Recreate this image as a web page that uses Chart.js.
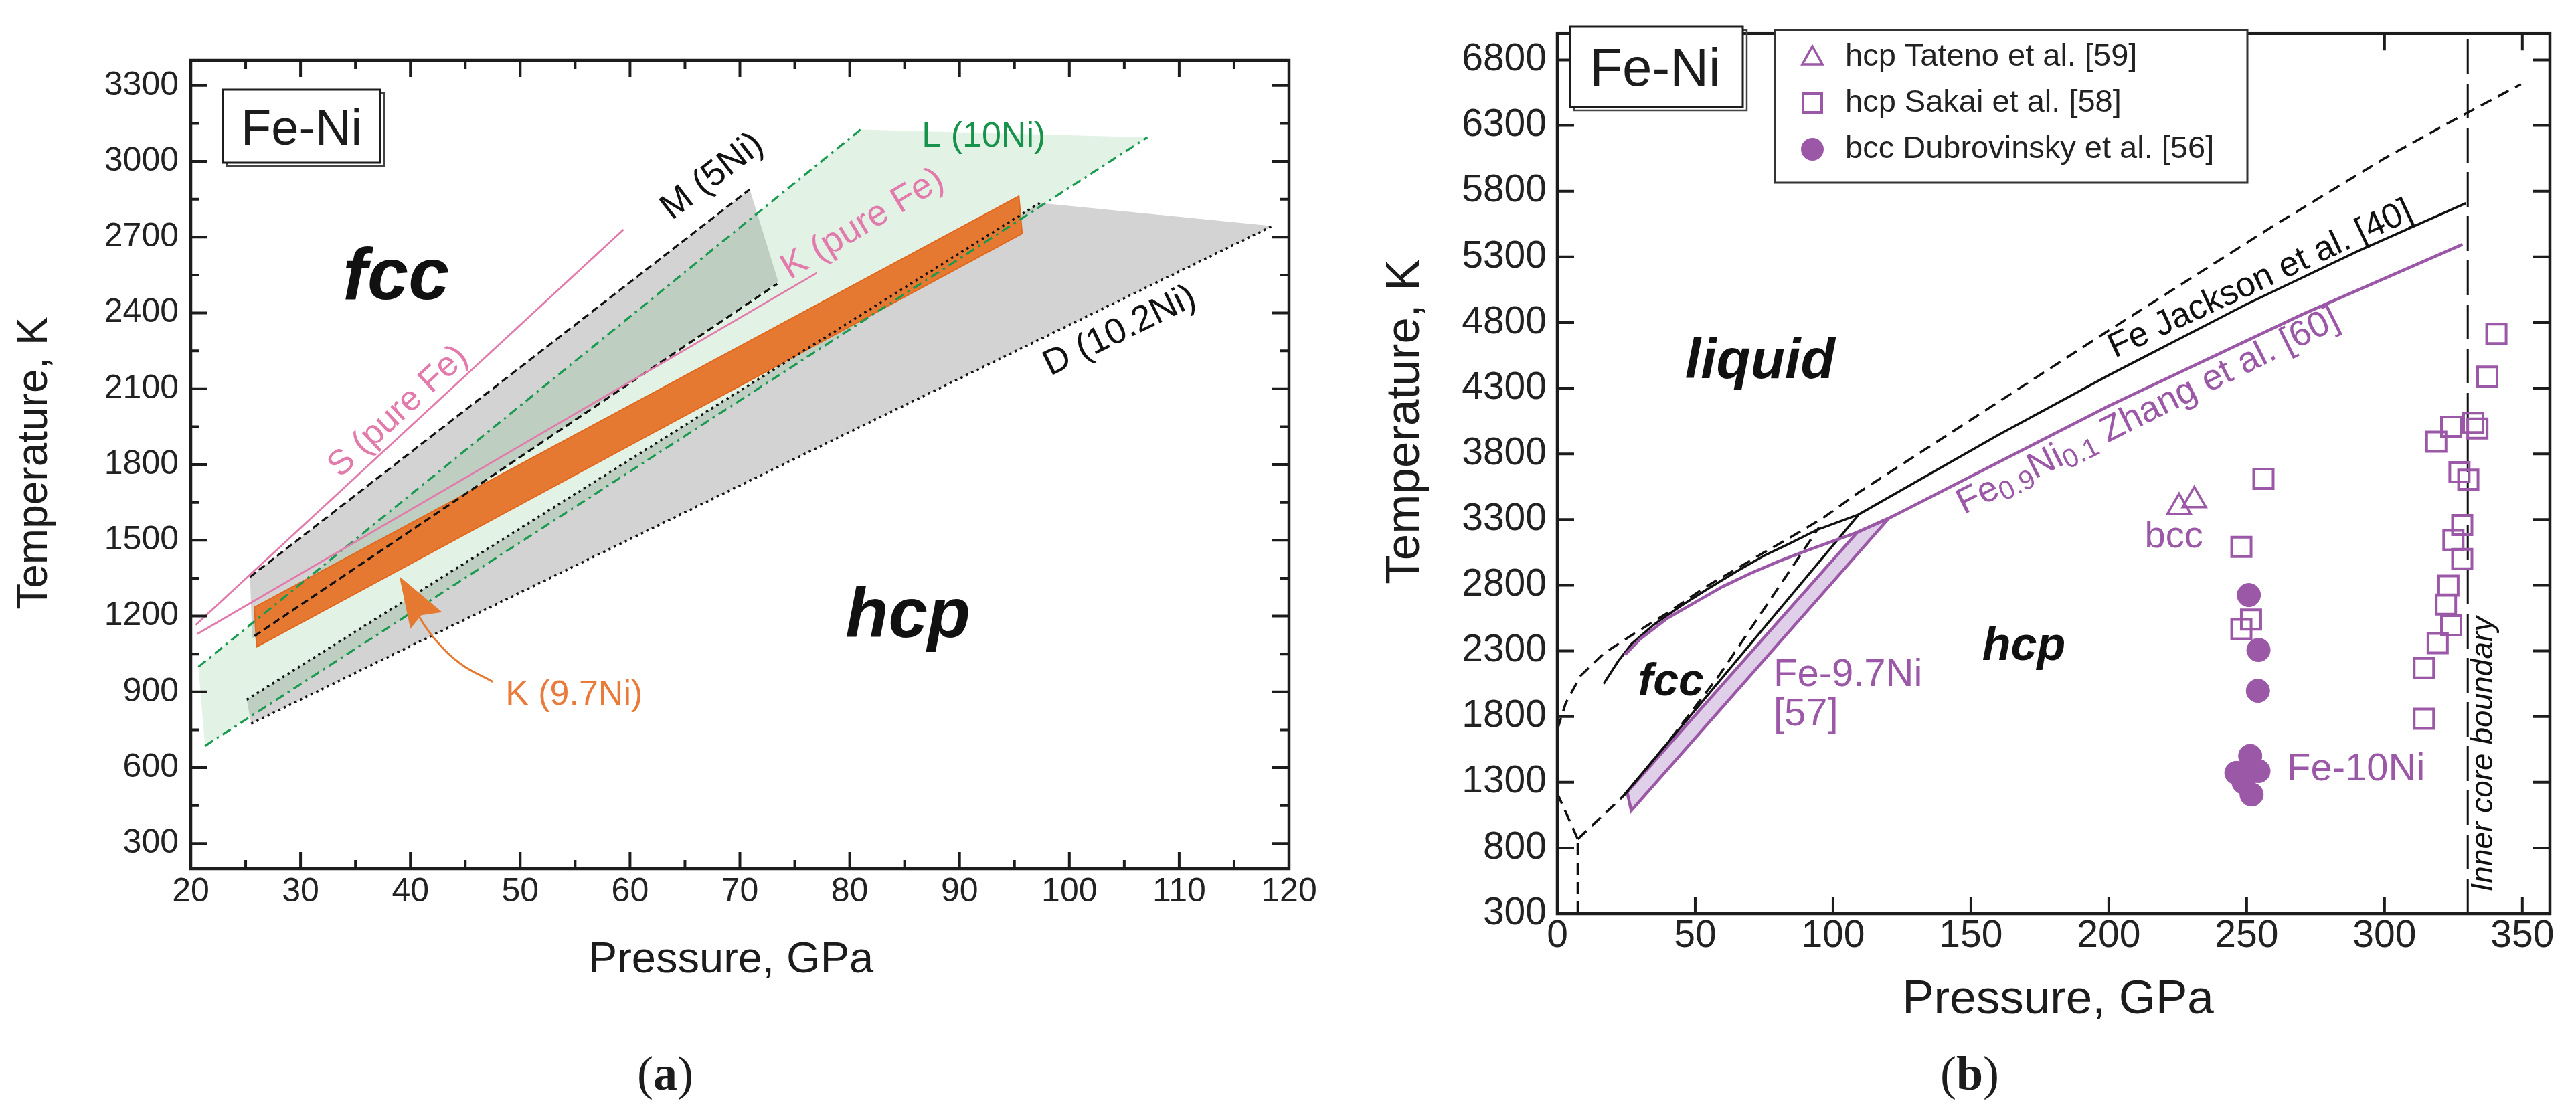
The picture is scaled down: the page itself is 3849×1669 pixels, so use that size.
<!DOCTYPE html>
<html><head><meta charset="utf-8">
<script src="https://cdn.jsdelivr.net/npm/chart.js@4.4.1/dist/chart.umd.min.js"></script>
<style>
html,body{margin:0;padding:0;background:#fff;width:3849px;height:1669px;overflow:hidden;}
canvas{position:absolute;top:0;}
#cA{left:0px;width:1996px;height:1669px;}
#cB{left:1925px;width:1924px;height:1669px;}
</style></head><body>
<canvas id="cA" width="1996" height="1669"></canvas>
<canvas id="cB" width="1924" height="1669"></canvas>
<script>
// ================= DATA : panel (a) =================
const aXTicks = [20,30,40,50,60,70,80,90,100,110,120];
const aXMinor = [25,35,45,55,65,75,85,95,105,115];
const aYTicks = [300,600,900,1200,1500,1800,2100,2400,2700,3000,3300];
const aYMinor = [450,750,1050,1350,1650,1950,2250,2550,2850,3150];
// regions (pressure GPa, temperature K)
const aRegionD = [[25.1,869],[97.3,2835],[118.5,2744],[25.5,774]];
const aRegionM = [[25.4,1355],[70.9,2889],[73.5,2523],[25.6,1110]];
const aRegionL = [[20.7,999],[81.0,3126],[107.1,3095],[21.3,686]];
const aBandK97 = [[25.8,1235],[95.4,2862],[95.7,2714],[26.0,1078]];
// boundary lines
const aLineMUpper = [[25.4,1355],[70.9,2889]];
const aLineMLower = [[25.8,1121],[73.4,2515]];
const aLineDUpper = [[25.1,869],[97.3,2835]];
const aLineDLower = [[25.5,774],[118.5,2744]];
const aLineLUpper = [[20.7,999],[81.0,3126]];
const aLineLLower = [[21.3,686],[107.1,3095]];
const aLineSFe = [[20.45,1165],[59.4,2730]];
const aLineKFe = [[20.6,1129],[77.0,2558]];
const aArrowK = [[47.5,940],[44.6,1010],[42.4,1100],[40.9,1190],[40.2,1262]];
const aArrowHead = [[39.0,1357],[40.0,1150],[41.0,1203],[42.9,1215]];

// ================= DATA : panel (b) =================
const bXTicks = [0,50,100,150,200,250,300,350];
const bYTicks = [300,800,1300,1800,2300,2800,3300,3800,4300,4800,5300,5800,6300,6800];
const bBand97 = [[25.3,1225],[108.8,3203],[120.3,3311],[26.8,1084]];
const bMeltDashed = [[0,1700],[3,1900],[8.4,2110],[16.8,2280],[27,2420],[40,2590],[54,2790],[65,2925],[75,3050],[85,3170],[96.2,3310],[109.2,3505],[200,4740],[260,5540],[300,6050],[325,6340],[349.5,6615]];
const bMeltFe = [[16.8,2050],[22,2220],[27,2355],[35,2500],[45,2645],[54,2765],[65,2905],[75,3025],[85,3125],[94,3220],[109.2,3338],[160,3945],[200,4399],[250,4940],[290,5340],[329.5,5709]];
const bMeltFeNi = [[24.5,2270],[30,2390],[40,2550],[50,2670],[60,2790],[70,2890],[80,2980],[90,3060],[108.8,3203],[120.8,3315],[200,4165],[270,4860],[328.3,5395]];
const bFccHcpFe = [[24.2,1203],[109.2,3335]];
const bFccHcpDashed = [[7.4,867],[24.2,1200],[40,1600],[58.9,2120],[94.9,3240]];
const bAlphaEps = [[7.4,300],[7.4,867]];
const bAlphaGamma = [[7.4,867],[0.3,1200]];
const bInnerCore = [[330.2,300],[330.2,7000]];
const bTateno = [[225.5,3395],[231,3446]];
const bSakai = [[340.6,4714],[337.3,4388],[324.2,4007],[318.8,3892],[332.2,4036],[333.7,3993],[327.2,3661],[330.4,3604],[328.2,3258],[325.0,3143],[328.2,2999],[323.2,2797],[322.3,2653],[324.2,2494],[319.3,2359],[314.3,2169],[314.3,1783],[256.1,3610],[248.1,3091],[251.6,2538],[248.1,2466]];
const bDubrovinsky = [[250.8,2725],[254.3,2307],[254.1,1996],[251.3,1500],[246.3,1371],[254.3,1385],[248.9,1299],[251.8,1206]];
const bLegendNames = ['hcp Tateno et al. [59]','hcp Sakai et al. [58]','bcc Dubrovinsky et al. [56]'];

// ================= STYLE =================
const SANS = '"Liberation Sans", Arial, Helvetica, sans-serif';
const SERIF = '"Liberation Serif", "Times New Roman", serif';
const INK = '#1c1c1c';
const PURPLE = '#9b58a7';
const PINK = '#e27aab';
const GREEN = '#1a9a50';
const ORANGE = '#e57931';
const GRAY = '#d3d3d3';

const pts = arr => arr.map(([x,y]) => ({x, y}));
function lineDS(arr, color, width, dash, order, extra) {
  return Object.assign({type:'line', data: pts(arr), borderColor: color, borderWidth: width,
    borderDash: dash || [], pointRadius: 0, fill: false, tension: 0, order: order}, extra || {});
}
function polyDS(arr, fillColor, order, border, bw) {
  const d = pts(arr); d.push({x: arr[0][0], y: arr[0][1]});
  return {type:'line', data: d, borderColor: border || 'rgba(0,0,0,0)', borderWidth: bw || 1,
    backgroundColor: fillColor, fill: 'shape', pointRadius: 0, tension: 0, order: order};
}
function markDS(arr, style, radius, bg, border, bw, order) {
  return {type:'line', data: pts(arr), showLine: false, pointStyle: style, pointRadius: radius,
    pointBackgroundColor: bg, pointBorderColor: border, pointBorderWidth: bw, order: order};
}

function axes(o) {
  const tk = (arr) => (s) => { s.ticks = arr.map(v => ({value: v})); };
  return {
    x: {type:'linear', min:o.xmin, max:o.xmax, afterBuildTicks: tk(o.xt),
        afterFit: s => { s.height = 100; },
        grid:{display:false, drawTicks:false}, border:{display:false},
        ticks:{font:{family:SANS, size:o.fs}, color:'#222', padding:o.xpad, maxRotation:0, autoSkip:false, callback: v => String(v)}},
    y: {type:'linear', min:o.ymin, max:o.ymax, afterBuildTicks: tk(o.yt),
        afterFit: s => { s.width = o.yw; },
        grid:{display:false, drawTicks:false}, border:{display:false},
        ticks:{font:{family:SANS, size:o.fs}, color:'#222', padding:o.ypad, autoSkip:false, callback: v => String(v)}}
  };
}

function drawFrame(chart, f) {
  const {ctx, chartArea: a, scales: {x, y}} = chart;
  ctx.save();
  ctx.strokeStyle = INK; ctx.lineCap = 'butt';
  ctx.lineWidth = 4;
  ctx.beginPath();
  const xt = (vals, len) => vals.forEach(v => { const p = x.getPixelForValue(v);
    ctx.moveTo(p, a.bottom); ctx.lineTo(p, a.bottom - len); ctx.moveTo(p, a.top); ctx.lineTo(p, a.top + len); });
  const yt = (vals, len) => vals.forEach(v => { const p = y.getPixelForValue(v);
    ctx.moveTo(a.left, p); ctx.lineTo(a.left + len, p); ctx.moveTo(a.right, p); ctx.lineTo(a.right - len, p); });
  xt(f.xMajor, f.major); yt(f.yMajor, f.major);
  if (f.xMinor) xt(f.xMinor, f.minor);
  if (f.yMinor) yt(f.yMinor, f.minor);
  ctx.stroke();
  ctx.lineWidth = 4.5;
  ctx.strokeRect(a.left, a.top, a.right - a.left, a.bottom - a.top);
  ctx.restore();
}
function dataLabel(chart, L) {
  const {ctx, scales: {x, y}} = chart;
  ctx.save();
  ctx.translate(x.getPixelForValue(L.x), y.getPixelForValue(L.y));
  ctx.rotate((L.rot || 0) * Math.PI / 180);
  ctx.font = `${L.style || ''} ${L.size}px ${SANS}`;
  ctx.fillStyle = L.color; ctx.textAlign = L.align || 'center'; ctx.textBaseline = L.base || 'alphabetic';
  ctx.fillText(L.t, 0, 0);
  ctx.restore();
}
function pixText(ctx, t, px, py, size, opts) {
  opts = opts || {};
  ctx.save(); ctx.translate(px, py); ctx.rotate((opts.rot || 0) * Math.PI / 180);
  ctx.font = `${opts.style || ''} ${size}px ${opts.family || SANS}`;
  ctx.fillStyle = opts.color || INK; ctx.textAlign = opts.align || 'center'; ctx.textBaseline = opts.base || 'alphabetic';
  ctx.fillText(t, 0, 0); ctx.restore();
}
function feNiBox(ctx, x0, y0, x1, y1, size, cx, base) {
  ctx.save();
  ctx.strokeStyle = '#444'; ctx.lineWidth = 2.5;
  ctx.strokeRect(x0 + 6, y0 + 5, x1 - x0, y1 - y0);
  ctx.fillStyle = '#fff'; ctx.fillRect(x0, y0, x1 - x0, y1 - y0);
  ctx.strokeStyle = INK; ctx.lineWidth = 3;
  ctx.strokeRect(x0, y0, x1 - x0, y1 - y0);
  ctx.restore();
  pixText(ctx, 'Fe-Ni', cx, base, size);
}
function caption(ctx, cx, base, letter) {
  const f1 = `72px ${SERIF}`, f2 = `bold 72px ${SERIF}`;
  ctx.save();
  ctx.font = f1; const wP = ctx.measureText('(').width, wQ = ctx.measureText(')').width;
  ctx.font = f2; const wA = ctx.measureText(letter).width;
  let x = cx - (wP + wA + wQ) / 2;
  ctx.fillStyle = INK; ctx.textBaseline = 'alphabetic'; ctx.textAlign = 'left';
  ctx.font = f1; ctx.fillText('(', x, base); x += wP;
  ctx.font = f2; ctx.fillText(letter, x, base); x += wA;
  ctx.font = f1; ctx.fillText(')', x, base);
  ctx.restore();
}

// ================= CHART (a) =================
const aAnnot = [
  {t:'fcc', x:38.7, y:2454, size:110, style:'italic bold', color:'#111'},
  {t:'hcp', x:85.3, y:1116, size:105, style:'italic bold', color:'#111'},
  {t:'S (pure Fe)', x:38.9, y:2009, size:52, color:PINK, rot:-42.7, base:'middle'},
  {t:'M (5Ni)', x:67.5, y:2939, size:54, color:'#111', rot:-37.6, base:'middle'},
  {t:'K (pure Fe)', x:81.2, y:2751, size:54, color:PINK, rot:-31, base:'middle'},
  {t:'L (10Ni)', x:92.2, y:3057, size:52, color:'#17924a'},
  {t:'D (10.2Ni)', x:104.6, y:2327, size:54, color:'#111', rot:-26, base:'middle'},
  {t:'K (9.7Ni)', x:54.9, y:848, size:52, color:'#ea7a3a'}
];
const plugA = {
  id:'decorA',
  afterDraw(chart) {
    const ctx = chart.ctx;
    drawFrame(chart, {xMajor:aXTicks, xMinor:aXMinor, yMajor:aYTicks, yMinor:aYMinor, major:25, minor:13});
    aAnnot.forEach(L => dataLabel(chart, L));
    feNiBox(ctx, 333, 134, 568, 243, 74, 450.5, 216);
    pixText(ctx, 'Temperature, K', 70, 692, 64, {rot:-90});
    pixText(ctx, 'Pressure, GPa', 1092, 1453, 65);
    caption(ctx, 994, 1628, 'a');
  }
};
new Chart(document.getElementById('cA'), {
  type:'line',
  data:{datasets:[
    polyDS(aRegionD, GRAY, 40),
    polyDS(aRegionM, GRAY, 39),
    polyDS(aRegionL, 'rgba(110,195,130,0.2)', 38),
    polyDS(aBandK97, ORANGE, 37, '#e2681f', 2),
    lineDS(aLineMUpper, '#111', 3.2, [11,6], 20),
    lineDS(aLineMLower, '#111', 3.2, [11,6], 20),
    lineDS(aLineDUpper, '#111', 3.5, [3.5,5.5], 20),
    lineDS(aLineDLower, '#111', 3.5, [3.5,5.5], 20),
    lineDS(aLineLUpper, GREEN, 3.2, [14,7,3.5,7], 19),
    lineDS(aLineLLower, GREEN, 3.2, [14,7,3.5,7], 19),
    lineDS(aLineSFe, PINK, 2.8, [], 18),
    lineDS(aLineKFe, PINK, 2.8, [], 18),
    lineDS(aArrowK, ORANGE, 3, [], 17, {tension:0.4}),
    polyDS(aArrowHead, ORANGE, 16)
  ]},
  options:{
    responsive:false, animation:false, devicePixelRatio:1, events:[],
    layout:{padding:{left:0, top:90, right:70, bottom:271}},
    plugins:{legend:{display:false}, tooltip:{enabled:false}},
    scales: axes({xmin:20, xmax:120, ymin:200, ymax:3400, xt:aXTicks, yt:aYTicks, fs:50, xpad:5, ypad:18, yw:285})
  },
  plugins:[plugA]
});

// ================= CHART (b) =================
const bAnnot = [
  {t:'liquid', x:73.5, y:4376, size:84, style:'italic bold', color:'#111'},
  {t:'hcp', x:169.2, y:2233, size:70, style:'italic bold', color:'#111'},
  {t:'fcc', x:41.2, y:1962, size:68, style:'italic bold', color:'#111'},
  {t:'Fe-9.7Ni', x:78.4, y:2032, size:58, color:PURPLE, align:'left'},
  {t:'[57]', x:78.4, y:1731, size:58, color:PURPLE, align:'left'},
  {t:'bcc', x:223.6, y:3086, size:56, color:PURPLE},
  {t:'Fe-10Ni', x:264.6, y:1314, size:58, color:PURPLE, align:'left'},
  {t:'Inner core boundary', x:336.1, y:1515, size:46, style:'italic', color:'#111', rot:-90, base:'middle'},
  {t:'Fe Jackson et al. [40]', x:256.5, y:5060, size:52, color:'#111', rot:-25}
];
const bRich = {x:147.4, y:3337, rot:-26.5, size:54, subSize:40, subDy:9, color:PURPLE,
  parts:[{t:'Fe'},{t:'0.9', sub:true},{t:'Ni'},{t:'0.1', sub:true},{t:' Zhang et al. [60]'}]};

function drawLegendB(ctx) {
  const x0 = 727, y0 = 45, x1 = 1433, y1 = 273;
  ctx.save();
  ctx.fillStyle = '#fff'; ctx.fillRect(x0, y0, x1 - x0, y1 - y0);
  ctx.strokeStyle = '#333'; ctx.lineWidth = 3; ctx.strokeRect(x0, y0, x1 - x0, y1 - y0);
  const rows = [85, 154, 223], mx = 783;
  ctx.strokeStyle = PURPLE; ctx.fillStyle = PURPLE; ctx.lineWidth = 3.5;
  ctx.beginPath(); ctx.moveTo(mx, rows[0] - 16); ctx.lineTo(mx + 15, rows[0] + 11); ctx.lineTo(mx - 15, rows[0] + 11); ctx.closePath(); ctx.stroke();
  ctx.lineWidth = 4; ctx.strokeRect(mx - 14, rows[1] - 14, 28, 28);
  ctx.beginPath(); ctx.arc(mx, rows[2], 17, 0, Math.PI * 2); ctx.fill();
  ctx.restore();
  bLegendNames.forEach((n, i) => pixText(ctx, n, 832, rows[i], 47, {align:'left', base:'middle', color:'#222'}));
}
function drawRich(chart, R) {
  const {ctx, scales:{x, y}} = chart;
  ctx.save();
  ctx.translate(x.getPixelForValue(R.x), y.getPixelForValue(R.y));
  ctx.rotate(R.rot * Math.PI / 180);
  ctx.fillStyle = R.color; ctx.textAlign = 'left'; ctx.textBaseline = 'alphabetic';
  let px = 0;
  R.parts.forEach(p => {
    ctx.font = `${p.sub ? R.subSize : R.size}px ${SANS}`;
    ctx.fillText(p.t, px, p.sub ? R.subDy : 0);
    px += ctx.measureText(p.t).width;
  });
  ctx.restore();
}
const plugB = {
  id:'decorB',
  afterDraw(chart) {
    const ctx = chart.ctx;
    drawFrame(chart, {xMajor:bXTicks, yMajor:bYTicks, major:25});
    bAnnot.forEach(L => dataLabel(chart, L));
    drawRich(chart, bRich);
    feNiBox(ctx, 421, 40, 679, 160, 80, 548, 128);
    drawLegendB(ctx);
    pixText(ctx, 'Temperature, K', 175, 630, 71, {rot:-90, base:'middle'});
    pixText(ctx, 'Pressure, GPa', 1150, 1514, 71);
    caption(ctx, 1018, 1628, 'b');
  }
};
new Chart(document.getElementById('cB'), {
  type:'line',
  data:{datasets:[
    polyDS(bBand97, 'rgba(196,168,214,0.55)', 40, PURPLE, 4.5),
    lineDS(bMeltDashed, '#111', 3.5, [18,11], 20),
    lineDS(bMeltFe, '#111', 3.5, [], 20),
    lineDS(bFccHcpFe, '#111', 3.5, [], 20),
    lineDS(bFccHcpDashed, '#111', 3.5, [18,11], 20),
    lineDS(bAlphaEps, '#111', 3.5, [18,11], 20),
    lineDS(bAlphaGamma, '#111', 3.5, [18,11], 20),
    lineDS(bInnerCore, '#111', 3, [52,14], 20),
    lineDS(bMeltFeNi, PURPLE, 4.5, [], 19),
    markDS(bSakai, 'rect', 20.5, 'rgba(255,255,255,0)', PURPLE, 4, 5),
    markDS(bTateno, 'triangle', 20, 'rgba(255,255,255,0)', PURPLE, 3.5, 5),
    markDS(bDubrovinsky, 'circle', 17.5, PURPLE, PURPLE, 1, 4)
  ]},
  options:{
    responsive:false, animation:false, devicePixelRatio:1, events:[],
    layout:{padding:{left:0, top:30, right:39, bottom:204}},
    plugins:{legend:{display:false}, tooltip:{enabled:false}},
    scales: axes({xmin:0, xmax:360, ymin:300, ymax:7000, xt:bXTicks, yt:bYTicks, fs:57, xpad:0, ypad:16, yw:402})
  },
  plugins:[plugB]
});
</script>
</body></html>
